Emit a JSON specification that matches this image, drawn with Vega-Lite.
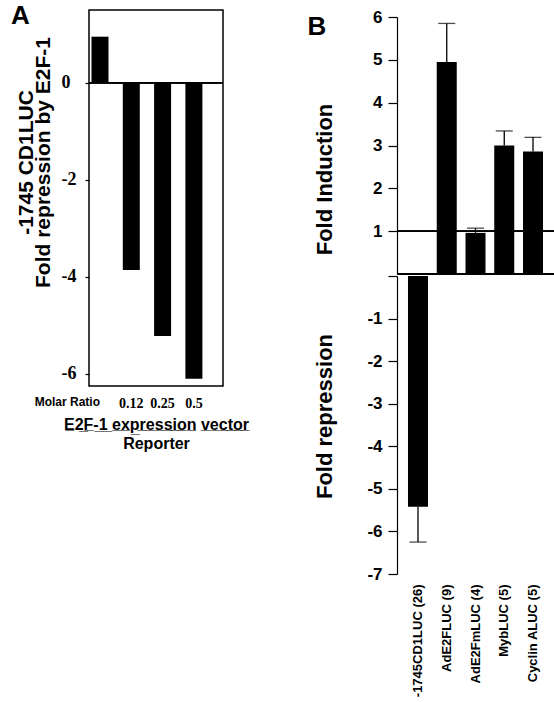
{
  "$schema": "https://vega.github.io/schema/vega-lite/v6.json",
  "background": "white",
  "padding": {"left": 10, "top": 2, "right": 0, "bottom": 0},
  "spacing": 57,
  "config": {
    "view": {"stroke": null},
    "font": "Liberation Sans",
    "axis": {"grid": false, "domainColor": "black", "tickColor": "black", "labelColor": "black", "titleColor": "black", "domainWidth": 1.2, "tickWidth": 1.2}
  },
  "datasets": {
    "a": [
      {"ratio": "ctrl", "value": 0.95},
      {"ratio": "0.12", "value": -3.86},
      {"ratio": "0.25", "value": -5.22},
      {"ratio": "0.5", "value": -6.1}
    ],
    "b": [
      {"reporter": "-1745CD1LUC (26)", "value": -5.42, "err": -6.25},
      {"reporter": "AdE2FLUC (9)", "value": 4.95, "err": 5.85},
      {"reporter": "AdE2FmLUC (4)", "value": 0.96, "err": 1.07},
      {"reporter": "MybLUC (5)", "value": 3.0, "err": 3.34},
      {"reporter": "Cyclin ALUC (5)", "value": 2.86, "err": 3.19}
    ]
  },
  "hconcat": [
    {
      "width": 134,
      "height": 376,
      "data": {"name": "a"},
      "view": {"stroke": "black", "strokeWidth": 1.5},
      "title": {"text": "A", "anchor": "start", "frame": "bounds", "fontSize": 26, "fontWeight": "bold", "font": "Liberation Sans", "color": "black", "offset": -19, "dx": -4},
      "layer": [
        {
          "mark": {"type": "bar", "color": "black", "width": 17},
          "encoding": {
            "x": {
              "field": "ratio", "type": "nominal",
              "scale": {"domain": ["ctrl", "0.12", "0.25", "0.5"], "paddingInner": 0.457, "paddingOuter": 0.369, "align": 0.108},
              "axis": {
                "labelExpr": "datum.value === 'ctrl' ? 'Molar Ratio' : datum.value",
                "labelAngle": 0,
                "labelAlign": {"condition": {"test": "datum.value === 'ctrl'", "value": "right"}, "value": "center"},
                "labelFont": {"condition": {"test": "datum.value === 'ctrl'", "value": "Liberation Sans"}, "value": "Liberation Serif"},
                "labelFontSize": {"condition": {"test": "datum.value === 'ctrl'", "value": 12}, "value": 14},
                "labelFontWeight": "bold",
                "labelPadding": 10,
                "ticks": false,
                "domain": false,
                "title": ["E\u03322\u0332F\u0332-\u03321\u0332 e\u0332x\u0332p\u0332r\u0332e\u0332s\u0332s\u0332i\u0332o\u0332n\u0332 v\u0332e\u0332c\u0332t\u0332o\u0332r\u0332", "Reporter"],
                "titleFontSize": 16,
                "titleFontWeight": "bold",
                "titleLineHeight": 19,
                "titlePadding": 6
              }
            },
            "y": {
              "field": "value", "type": "quantitative",
              "scale": {"domain": [-6.25, 1.5], "nice": false, "zero": false},
              "axis": {
                "values": [0, -2, -4, -6],
                "labelExpr": "'' + datum.value",
                "labelFont": "Liberation Serif",
                "labelFontSize": 18,
                "labelFontWeight": "bold",
                "labelAlign": "left",
                "tickSize": 4,
                "labelPadding": 24,
                "domain": false,
                "title": ["-1745 CD1LUC", "Fold repression by E2F-1"],
                "titleFontSize": 21,
                "titleFontWeight": "bold",
                "titleLineHeight": 17,
                "titleY": 152,
                "titlePadding": 8
              }
            }
          }
        },
        {
          "mark": {"type": "rule", "color": "black", "strokeWidth": 1.3},
          "encoding": {"y": {"datum": 0, "type": "quantitative"}}
        }
      ]
    },
    {
      "data": {"name": "b"},
      "title": {"text": "B", "anchor": "start", "frame": "bounds", "fontSize": 26, "fontWeight": "bold", "font": "Liberation Sans", "color": "black", "offset": -32, "dx": -6},
      "spacing": -11,
      "vconcat": [
        {
          "width": 157,
          "height": 7,
          "mark": {"type": "rule", "opacity": 0},
          "encoding": {}
        },
        {
          "spacing": 0,
          "vconcat": [
            {
              "width": 157,
              "height": 257,
              "transform": [{"filter": "datum.value > 0"}],
              "encoding": {
                "x": {
                  "field": "reporter", "type": "nominal",
                  "scale": {"domain": ["-1745CD1LUC (26)", "AdE2FLUC (9)", "AdE2FmLUC (4)", "MybLUC (5)", "Cyclin ALUC (5)"], "paddingInner": 0.304, "paddingOuter": 0.382},
                  "axis": null
                }
              },
              "layer": [
                {
                  "mark": {"type": "rule", "color": "black", "strokeWidth": 1.3},
                  "encoding": {
                    "y": {"field": "value", "type": "quantitative"},
                    "y2": {"field": "err"}
                  }
                },
                {
                  "mark": {"type": "tick", "color": "black", "size": 17, "thickness": 1.3},
                  "encoding": {"y": {"field": "err", "type": "quantitative"}}
                },
                {
                  "mark": {"type": "bar", "color": "black"},
                  "encoding": {
                    "y": {
                      "field": "value", "type": "quantitative",
                      "scale": {"domain": [0, 6], "nice": false},
                      "axis": {
                        "values": [1, 2, 3, 4, 5, 6],
                        "labelFontSize": 17,
                        "labelFontWeight": "bold",
                        "labelPadding": 6,
                        "tickSize": 9,
                        "title": "Fold Induction",
                        "titleFontSize": 22,
                        "titleFontWeight": "bold",
                        "titleY": 162,
                        "titlePadding": 36
                      }
                    }
                  }
                },
                {
                  "mark": {"type": "rule", "color": "black", "strokeWidth": 1.3},
                  "encoding": {"y": {"datum": 1, "type": "quantitative"}, "x": {}}
                },
                {
                  "mark": {"type": "rule", "color": "black", "strokeWidth": 1.3},
                  "encoding": {"y": {"datum": 0, "type": "quantitative"}, "x": {}}
                }
              ]
            },
            {
              "width": 157,
              "height": 298,
              "transform": [{"filter": "datum.value < 0"}],
              "encoding": {
                "x": {
                  "field": "reporter", "type": "nominal",
                  "scale": {"domain": ["-1745CD1LUC (26)", "AdE2FLUC (9)", "AdE2FmLUC (4)", "MybLUC (5)", "Cyclin ALUC (5)"], "paddingInner": 0.304, "paddingOuter": 0.382},
                  "axis": {
                    "labelAngle": -90,
                    "labelFontSize": 13,
                    "labelFontWeight": "bold",
                    "labelPadding": 10,
                    "ticks": false,
                    "domain": false,
                    "title": null
                  }
                }
              },
              "layer": [
                {
                  "mark": {"type": "rule", "color": "black", "strokeWidth": 1.3},
                  "encoding": {
                    "y": {"field": "value", "type": "quantitative"},
                    "y2": {"field": "err"}
                  }
                },
                {
                  "mark": {"type": "tick", "color": "black", "size": 17, "thickness": 1.3},
                  "encoding": {"y": {"field": "err", "type": "quantitative"}}
                },
                {
                  "mark": {"type": "bar", "color": "black"},
                  "encoding": {
                    "y": {
                      "field": "value", "type": "quantitative",
                      "scale": {"domain": [-7, 0], "nice": false},
                      "axis": {
                        "values": [0, -1, -2, -3, -4, -5, -6, -7],
                        "labelExpr": "datum.value == 0 ? '' : '' + datum.value",
                        "labelFontSize": 17,
                        "labelFontWeight": "bold",
                        "labelPadding": 6,
                        "tickSize": 9,
                        "title": "Fold repression",
                        "titleFontSize": 22,
                        "titleFontWeight": "bold",
                        "titleY": 140,
                        "titlePadding": 30
                      }
                    }
                  }
                }
              ]
            }
          ]
        }
      ]
    }
  ]
}
